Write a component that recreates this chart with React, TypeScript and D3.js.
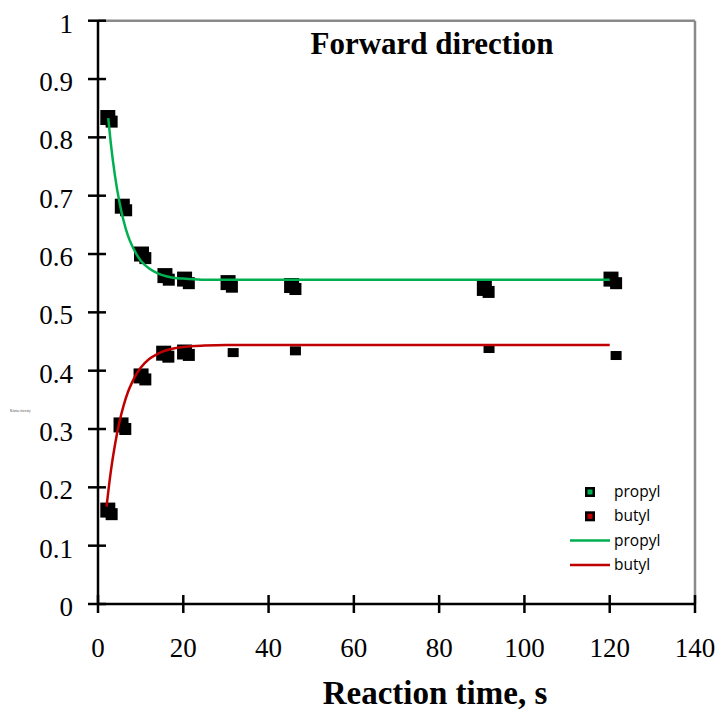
import React from "react";
import * as d3 from "d3";

// ---- data ----
const xTicks = [0, 20, 40, 60, 80, 100, 120, 140];
const yTicks = [0, 0.1, 0.2, 0.3, 0.4, 0.5, 0.6, 0.7, 0.8, 0.9, 1];

// measured points (main marker)
const propylA: [number, number][] = [
  [2.3, 0.834], [5.7, 0.682], [10.2, 0.6], [15.7, 0.563], [20.3, 0.557],
  [30.5, 0.551], [45.4, 0.546], [90.6, 0.541], [120.3, 0.557],
];
// replicate markers (slightly shifted)
const propylB: [number, number][] = [
  [3.2, 0.827], [6.6, 0.675], [11.1, 0.593], [16.6, 0.556], [21.3, 0.55],
  [31.4, 0.544], [46.3, 0.54], [91.6, 0.535], [121.5, 0.55],
];
const butylA: [number, number][] = [
  [2.3, 0.161], [5.4, 0.307], [10.1, 0.391], [15.4, 0.43], [20.3, 0.432],
];
const butylB: [number, number][] = [
  [3.2, 0.154], [6.4, 0.3], [11.1, 0.385], [16.5, 0.424], [21.3, 0.427],
];
// replicate markers on the butyl plateau (only a small part visible)
const butylC: [number, number][] = [
  [31.7, 0.431], [46.3, 0.434], [91.7, 0.438], [121.5, 0.426],
];

// fitted curves
const propylFit: [number, number][] = [
  [2.4, 0.833], [3, 0.79], [4, 0.733], [5, 0.69], [6, 0.657], [7, 0.632],
  [8, 0.614], [9, 0.6], [10, 0.589], [12, 0.575], [14, 0.567], [16, 0.562],
  [18, 0.559], [20, 0.558], [25, 0.556], [30, 0.556], [120, 0.556],
];
const butylFit: [number, number][] = [
  [2, 0.167], [3, 0.227], [4, 0.274], [5, 0.311], [6, 0.34], [7, 0.363],
  [8, 0.38], [9, 0.394], [10, 0.405], [12, 0.42], [14, 0.429], [16, 0.435],
  [18, 0.4385], [20, 0.4406], [25, 0.443], [30, 0.444], [120, 0.444],
];

const legendItems = [
  { label: "propyl", kind: "marker", color: "#00b050" },
  { label: "butyl", kind: "marker", color: "#c00000" },
  { label: "propyl", kind: "line", color: "#00b050" },
  { label: "butyl", kind: "line", color: "#c00000" },
];

const W = 721;
const H = 715;
const L = 98, R = 695, T = 20.7, B = 604;

export default function App() {
  const x = d3.scaleLinear().domain([0, 140]).range([L, R]);
  const y = d3.scaleLinear().domain([0, 1]).range([B, T]);
  const line = d3
    .line<[number, number]>()
    .x((d) => x(d[0]))
    .y((d) => y(d[1]))
    .curve(d3.curveMonotoneX);

  const serif = "'Liberation Serif', 'Times New Roman', serif";
  const sans = "'Open Sans', 'Liberation Sans', sans-serif";

  const sq = (pts: [number, number][], w: number, h: number, key: string) =>
    pts.map((d, i) => (
      <rect
        key={key + i}
        x={x(d[0]) - w / 2}
        y={y(d[1]) - h / 2}
        width={w}
        height={h}
        fill="#000"
      />
    ));

  return (
    <svg
      width={W}
      height={H}
      style={{ position: "absolute", left: 0, top: 0, background: "#fff" }}
    >
      <rect x={0} y={0} width={W} height={H} fill="#fff" />
      {/* frame top/right */}
      <line x1={L} y1={T} x2={R} y2={T} stroke="#8a8a8a" strokeWidth={2.5} />
      <line x1={R} y1={T} x2={R} y2={B} stroke="#8a8a8a" strokeWidth={2.5} />

      {/* markers */}
      {sq(propylB, 12, 12, "pb")}
      {sq(butylB, 12, 12, "bb")}
      {sq(butylC, 11, 9, "bc")}
      {sq(propylA, 15, 15, "pa")}
      {sq(butylA, 15, 15, "ba")}

      {/* fitted curves */}
      <path d={line(propylFit) || ""} fill="none" stroke="#00b050" strokeWidth={2.5} />
      <path d={line(butylFit) || ""} fill="none" stroke="#c00000" strokeWidth={2.5} />

      {/* axes */}
      <line x1={L} y1={T} x2={L} y2={B} stroke="#000" strokeWidth={2.5} />
      <line x1={L} y1={B} x2={R} y2={B} stroke="#000" strokeWidth={2.5} />
      {yTicks.map((t) => (
        <g key={"yt" + t}>
          <line x1={L - 10} x2={L + 8} y1={y(t)} y2={y(t)} stroke="#000" strokeWidth={2.5} />
          <text
            x={73}
            y={y(t) + 12}
            textAnchor="end"
            fontFamily={serif}
            fontSize={27}
            fill="#000"
          >
            {String(t)}
          </text>
        </g>
      ))}
      {xTicks.map((t) => (
        <g key={"xt" + t}>
          <line x1={x(t)} x2={x(t)} y1={B - 9} y2={B + 9} stroke="#000" strokeWidth={2.5} />
          <text
            x={x(t)}
            y={657}
            textAnchor="middle"
            fontFamily={serif}
            fontSize={27}
            fill="#000"
          >
            {t}
          </text>
        </g>
      ))}

      {/* titles */}
      <text x={432} y={54} textAnchor="middle" fontFamily={serif} fontWeight="bold" fontSize={31}>
        Forward direction
      </text>
      <text x={435} y={704} textAnchor="middle" fontFamily={serif} fontWeight="bold" fontSize={33}>
        Reaction time, s
      </text>
      <text x={10} y={412} fontFamily={sans} fontSize={2.6} fill="#333">
        Relative intensity
      </text>

      {/* legend */}
      {legendItems.map((it, i) => {
        const cy = 492 + i * 24.3;
        return (
          <g key={"lg" + i}>
            {it.kind === "marker" ? (
              <>
                <rect x={585} y={cy - 5} width={10} height={10} fill="#000" />
                <rect x={587.5} y={cy - 2.5} width={5} height={5} fill={it.color} />
              </>
            ) : (
              <line x1={570} x2={610} y1={cy} y2={cy} stroke={it.color} strokeWidth={2.5} />
            )}
            <text x={614} y={cy + 5} fontFamily={sans} fontSize={15.5} fill="#000">
              {it.label}
            </text>
          </g>
        );
      })}
    </svg>
  );
}
